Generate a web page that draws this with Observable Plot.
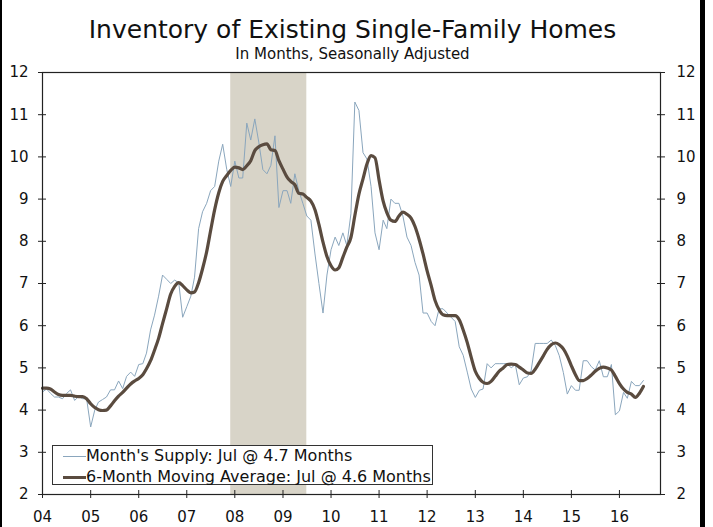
<!DOCTYPE html>
<html><head><meta charset="utf-8">
<script src="https://cdn.jsdelivr.net/npm/d3@7"></script>
<script src="https://cdn.jsdelivr.net/npm/@observablehq/plot@0.6"></script>
<style>
body{margin:0;background:#fff;font-family:"DejaVu Sans",Verdana,sans-serif;color:#111;}
#wrap{position:relative;width:713px;height:527px;overflow:hidden;background:#fff;}
#wrap svg{position:absolute;left:0;top:0;}
.bar{position:absolute;top:0;height:527px;background:#000;}
#title{position:absolute;left:0;width:705px;top:16px;text-align:center;font-size:25px;line-height:28px;}
#subtitle{position:absolute;left:0;width:705px;top:46px;text-align:center;font-size:15px;line-height:16px;}
#legend{position:absolute;left:52px;top:445px;width:379px;height:38px;border:1px solid #333;background:#fff;font-size:16px;}
.row{position:absolute;left:10px;height:20px;line-height:20px;white-space:nowrap;}
.sw{display:inline-block;width:23px;vertical-align:middle;}
</style></head><body><div id="wrap"></div>
<script>
const startYear = 2004;
// Month's supply, Jan 2004 .. Jul 2016
const supply = [
  4.43, 4.5, 4.4, 4.31, 4.31, 4.27, 4.39, 4.48, 4.23, 4.32, 4.27, 4.27,
  3.6, 4.0, 4.19, 4.25, 4.31, 4.48, 4.48, 4.69, 4.51, 4.8, 4.9, 4.8,
  5.08, 5.1, 5.35, 5.9, 6.25, 6.7, 7.2, 7.1, 7.0, 7.08, 7.02, 6.2,
  6.45, 6.7, 7.15, 8.3, 8.7, 8.9, 9.2, 9.3, 9.9, 10.3, 9.7, 9.3,
  9.9, 9.5, 9.5, 10.8, 10.4, 10.9, 10.35, 9.7, 9.6, 9.8, 10.5, 8.8,
  9.2, 9.2, 8.9, 9.6, 9.2, 8.9, 8.6, 8.5, 7.7, 7.0, 6.3, 7.2,
  7.8, 8.1, 7.9, 8.2, 7.9, 8.65, 11.3, 11.1, 10.1, 9.95, 9.3, 8.2,
  7.8, 8.5, 8.3, 9.0, 8.9, 8.9, 8.6, 8.1, 7.9, 7.5, 7.2, 6.3,
  6.3, 6.1, 6.0, 6.4, 6.4, 6.3, 6.2, 6.1, 5.5, 5.3, 4.9, 4.5,
  4.3, 4.47, 4.5, 5.1, 5.0, 5.1, 5.1, 5.1, 5.1, 5.0, 5.08, 4.6,
  4.76, 4.79, 4.93, 5.58, 5.58, 5.58, 5.58, 5.66, 5.53, 5.29, 4.89, 4.38,
  4.58, 4.47, 4.47, 5.17, 5.17, 5.03, 4.95, 5.17, 4.79, 4.79, 5.08, 3.89,
  3.98, 4.42, 4.28, 4.68, 4.58, 4.58, 4.7
];
// 6-month moving average, Jan 2004 .. Jul 2016
const movingAvg = [
  4.52, 4.52, 4.5, 4.43, 4.37, 4.35, 4.35, 4.35, 4.33, 4.32, 4.32, 4.27,
  4.15, 4.06, 4.01, 3.99, 4.0, 4.1, 4.22, 4.33, 4.42, 4.52, 4.62, 4.69,
  4.75, 4.84, 4.98, 5.17, 5.42, 5.7, 6.05, 6.4, 6.75, 6.93, 7.02, 6.95,
  6.85, 6.78, 6.8, 7.02, 7.35, 7.75, 8.25, 8.75, 9.15, 9.42, 9.56, 9.68,
  9.76, 9.74, 9.7, 9.79, 9.91, 10.15, 10.24, 10.29, 10.31, 10.17, 10.15, 9.91,
  9.71, 9.52, 9.42, 9.34, 9.14, 9.12, 9.04, 8.95, 8.75, 8.4, 7.98, 7.64,
  7.42, 7.32, 7.37, 7.62, 7.86, 8.09, 8.61, 9.12, 9.48, 9.83, 10.03, 9.98,
  9.45, 8.95, 8.68, 8.5, 8.47, 8.6, 8.69, 8.64, 8.55, 8.35, 8.05, 7.7,
  7.3, 6.95, 6.6, 6.38, 6.26, 6.24, 6.24, 6.24, 6.14, 5.9, 5.6, 5.25,
  4.92, 4.75, 4.66, 4.63, 4.68, 4.8, 4.92, 5.0, 5.08, 5.09, 5.08, 5.02,
  4.95, 4.88, 4.87, 4.97, 5.12, 5.28, 5.44, 5.55, 5.59, 5.55, 5.45, 5.28,
  5.05, 4.84, 4.7, 4.7, 4.75, 4.83, 4.92, 4.99, 5.02, 5.0, 4.95, 4.8,
  4.63, 4.5, 4.42, 4.38, 4.3, 4.4, 4.56
];
const yTicks = [2, 3, 4, 5, 6, 7, 8, 9, 10, 11, 12];
const xTickYears = [2004, 2005, 2006, 2007, 2008, 2009, 2010, 2011, 2012, 2013, 2014, 2015, 2016];
const xTickLabels = ["04", "05", "06", "07", "08", "09", "10", "11", "12", "13", "14", "15", "16"];
const recessions = [{start: [2007, 11], end: [2009, 6]}];
const seriesNames = ["Month's Supply: Jul @ 4.7 Months", "6-Month Moving Average: Jul @ 4.6 Months"];
const seriesColors = ["#8aa6bd", "#5a4b3f"];
const titleText = "Inventory of Existing Single-Family Homes";
const subtitleText = "In Months, Seasonally Adjusted";

const dateOf = (i) => new Date(Date.UTC(startYear, i, 1));
const supplyData = supply.map((v, i) => ({date: dateOf(i), value: v}));
const maData = movingAvg.map((v, i) => ({date: dateOf(i), value: v}));
const recData = recessions.map(r => ({x1: new Date(Date.UTC(r.start[0], r.start[1], 1)), x2: new Date(Date.UTC(r.end[0], r.end[1], 1))}));
const xTicks = xTickYears.map(y => new Date(Date.UTC(y, 0, 1)));
const yearLabel = d => xTickLabels[xTickYears.indexOf(d.getUTCFullYear())];
const axisColor = "#222";

const chart = Plot.plot({
  width: 713, height: 527,
  marginLeft: 42, marginRight: 53, marginTop: 72, marginBottom: 33,
  style: {fontFamily: "DejaVu Sans, Verdana, sans-serif", fontSize: "15px", color: "#111", background: "transparent", overflow: "visible"},
  x: {type: "utc", domain: [new Date(Date.UTC(2004, 0, 1)), new Date(Date.UTC(2016, 10, 8))], axis: null},
  y: {domain: [2, 12], axis: null},
  marks: [
    Plot.rect(recData, {x1: "x1", x2: "x2", y1: 2, y2: 12, fill: "#d8d4c8"}),
    Plot.line(supplyData, {x: "date", y: "value", stroke: seriesColors[0], strokeWidth: 1}),
    Plot.line(maData, {x: "date", y: "value", stroke: seriesColors[1], strokeWidth: 3.2, curve: "monotone-x"}),
    Plot.frame({stroke: axisColor, strokeWidth: 1.2}),
    Plot.axisY(yTicks, {anchor: "left", tickSize: 8, dx: 4, tickFormat: () => "", stroke: axisColor, label: null}),
    Plot.axisY(yTicks, {anchor: "right", tickSize: 8, dx: -4, tickFormat: () => "", stroke: axisColor, label: null}),
    Plot.axisY(yTicks, {anchor: "left", tickSize: 0, tickPadding: 14, label: null, fill: "#111"}),
    Plot.axisY(yTicks, {anchor: "right", tickSize: 0, tickPadding: 16, label: null, fill: "#111"}),
    Plot.axisX(xTicks, {anchor: "bottom", tickSize: 8, dy: -4, tickFormat: () => "", stroke: axisColor, label: null}),
    Plot.axisX(xTicks, {anchor: "bottom", tickSize: 0, tickPadding: 17, tickFormat: yearLabel, label: null, fill: "#111"})
  ]
});

const wrap = document.getElementById("wrap");
wrap.appendChild(chart);

const t = document.createElement("div"); t.id = "title"; t.textContent = titleText; wrap.appendChild(t);
const st = document.createElement("div"); st.id = "subtitle"; st.textContent = subtitleText; wrap.appendChild(st);

const lg = document.createElement("div"); lg.id = "legend";
seriesNames.forEach((name, k) => {
  const row = document.createElement("div"); row.className = "row";
  row.style.top = (k === 0 ? 0 : 21) + "px";
  const sw = document.createElement("span"); sw.className = "sw";
  sw.style.height = (k === 0 ? 1 : 3) + "px"; sw.style.background = seriesColors[k];
  row.appendChild(sw);
  row.appendChild(document.createTextNode(name));
  lg.appendChild(row);
});
wrap.appendChild(lg);

const lb = document.createElement("div"); lb.className = "bar"; lb.style.left = "0px"; lb.style.width = "2px"; wrap.appendChild(lb);
const rb = document.createElement("div"); rb.className = "bar"; rb.style.left = "700px"; rb.style.width = "5px"; wrap.appendChild(rb);
</script></body></html>
